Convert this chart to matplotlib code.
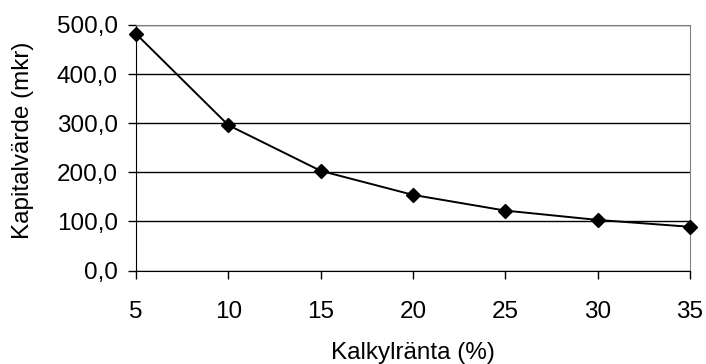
import matplotlib
matplotlib.use("Agg")
import matplotlib.pyplot as plt
from matplotlib.ticker import FuncFormatter

rates = [5, 10, 15, 20, 25, 30, 35]
values = [482, 296, 203, 154, 122, 103, 89]
y_ticks = [0, 100, 200, 300, 400, 500]

FS = 17.5
plt.rcParams['font.family'] = ['Liberation Sans', 'DejaVu Sans']
fig = plt.figure(figsize=(7.06, 3.64), dpi=100)
ax = fig.add_axes([136/706, 1-270.5/364, (690-136)/706, (270.5-25)/364])

ax.plot(rates, values, color='black', linewidth=1.4, marker='D', markersize=7, zorder=3, clip_on=False)
ax.set_xlim(5, 35)
ax.set_ylim(0, 500)
ax.set_xticks(rates)
ax.set_yticks(y_ticks)
ax.yaxis.set_major_formatter(FuncFormatter(lambda v, p: f"{v:.1f}".replace('.', ',')))
ax.grid(axis='y', color='black', linewidth=1)
ax.set_axisbelow(True)
for s in ['top', 'right']:
    ax.spines[s].set_color('#808080')
for s in ['left', 'bottom']:
    ax.spines[s].set_color('black')
ax.tick_params(axis='x', direction='out', length=6, pad=16, labelsize=FS, width=1)
ax.tick_params(axis='y', direction='out', length=6, pad=7, labelsize=FS, width=1)
ax.set_xlabel('Kalkylränta (%)', fontsize=FS, labelpad=14)
ax.set_ylabel('Kapitalvärde (mkr)', fontsize=FS, va='center')
ax.yaxis.set_label_coords((23-136)/554, (270.5-140)/245.5)
fig.savefig('out.png', dpi=100)
